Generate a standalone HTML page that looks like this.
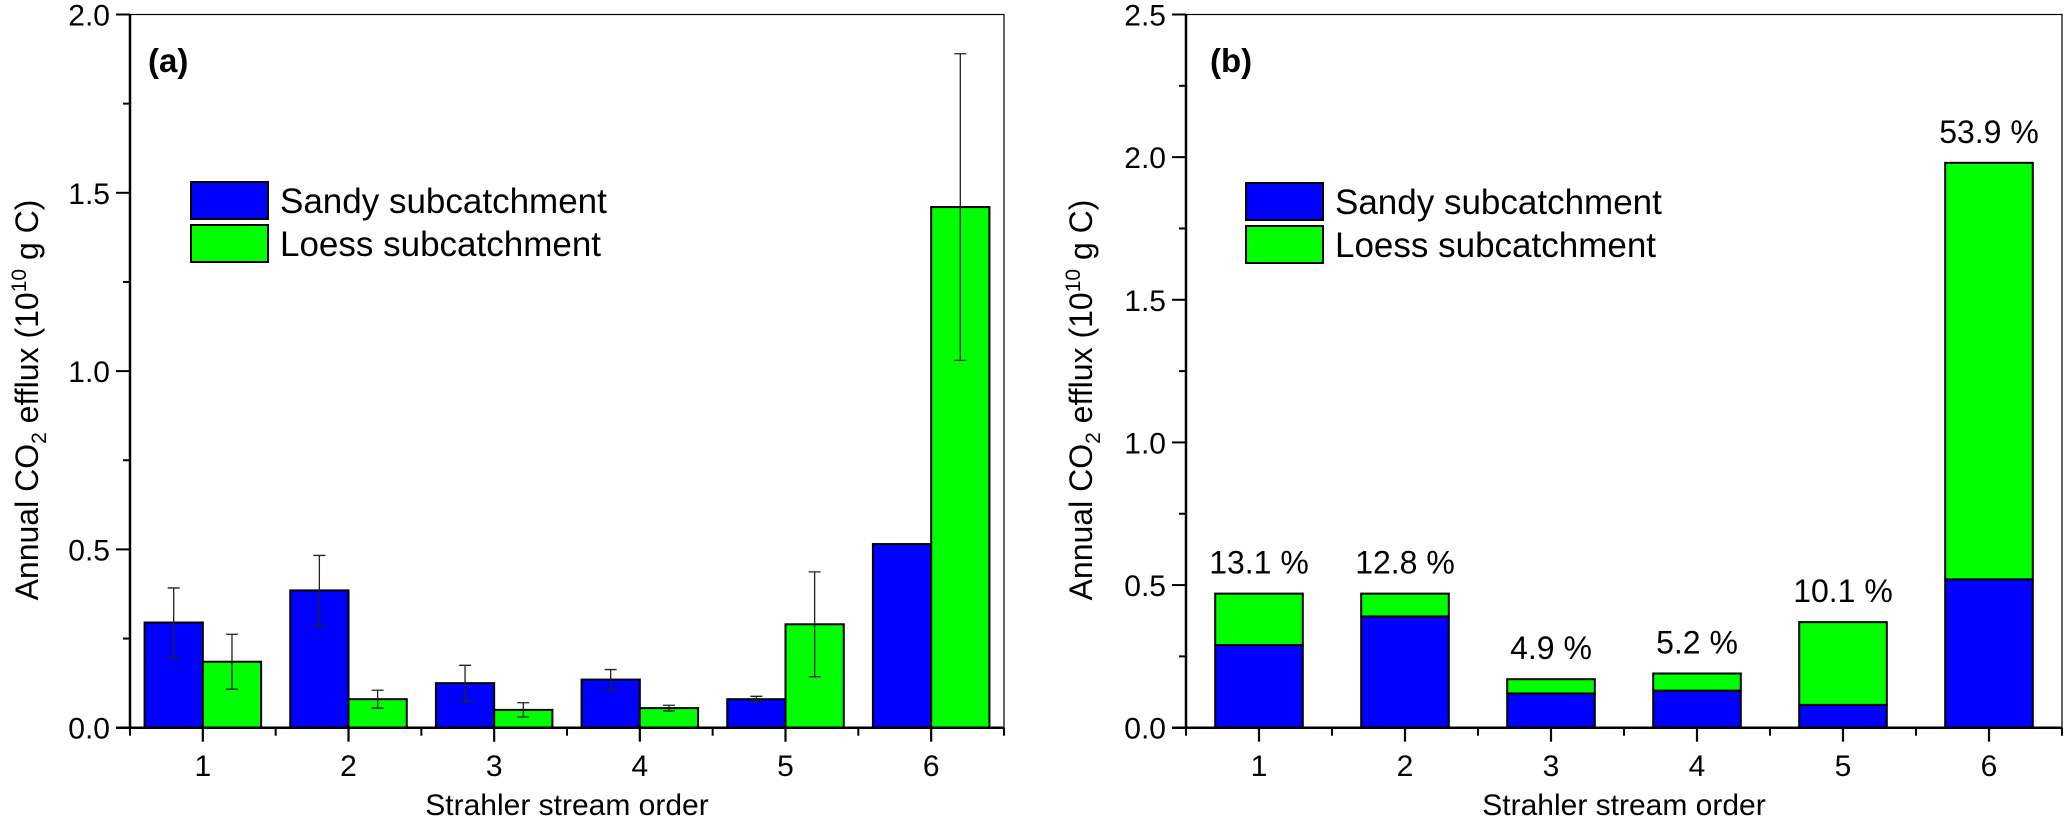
<!DOCTYPE html>
<html><head><meta charset="utf-8"><style>
body{margin:0;background:#fff}
svg{display:block;font-family:"Liberation Sans",Arial,sans-serif}
</style></head><body>
<svg id="c" width="2067" height="818" viewBox="0 0 2067 818" xmlns="http://www.w3.org/2000/svg"></svg>
<script>
const categories=[1,2,3,4,5,6];
const sandyA=[0.295,0.385,0.125,0.135,0.08,0.515];
const loessA=[0.185,0.08,0.05,0.055,0.29,1.46];
const sandyErr=[0.097,0.098,0.05,0.028,0.008,0];
const loessErr=[0.077,0.025,0.02,0.008,0.147,0.43];
const sandyB=[0.29,0.39,0.12,0.13,0.08,0.52];
const loessB=[0.18,0.08,0.05,0.06,0.29,1.46];
const pctLabels=["13.1 %","12.8 %","4.9 %","5.2 %","10.1 %","53.9 %"];
const yTicksA=[0,0.5,1.0,1.5,2.0];
const yTicksB=[0,0.5,1.0,1.5,2.0,2.5];

const svg=document.getElementById('c');
const NS='http://www.w3.org/2000/svg';
function el(t,a,p){const e=document.createElementNS(NS,t);for(const k in a)e.setAttribute(k,a[k]);(p||svg).appendChild(e);return e;}
function txt(s,a,p){const e=el('text',a,p);e.textContent=s;return e;}

function panel(cfg){
  const g=el('g',{});
  
  
  const x0=cfg.x0,x1=cfg.x1,yb=727.7,yt=14.5,ymax=cfg.ymax;
  const sx=v=>x0+(v-0.5)*(x1-x0)/6;
  const sy=v=>yb-v*(yb-yt)/ymax;
  const step=(x1-x0)/6;
  const fr=el('rect',{x:x0,y:yt,width:x1-x0,height:yb-yt,fill:'none',stroke:'#000','stroke-width':1.2},g);
  
  
  categories.forEach((c,i)=>{
    if(cfg.stacked){
      const w=step*0.6,cx=sx(c);
      const b=el('rect',{x:cx-w/2,y:sy(sandyB[i]),width:w,height:sy(0)-sy(sandyB[i]),fill:'#0000ff',stroke:'#000','stroke-width':2},g);
      
      
      const tot=sandyB[i]+loessB[i];
      const l=el('rect',{x:cx-w/2,y:sy(tot),width:w,height:sy(sandyB[i])-sy(tot),fill:'#00ff00',stroke:'#000','stroke-width':2},g);
      
      
      const p=txt(pctLabels[i],{x:cx,y:sy(tot)-20,'font-size':32,'text-anchor':'middle'},g);
      
      
    }else{
      const w=step*0.4,cx=sx(c);
      [[sandyA,sandyErr,'#0000ff',cx-w,'sandy'],[loessA,loessErr,'#00ff00',cx,'loess']].forEach(([d,e,col,bx,nm])=>{
        const b=el('rect',{x:bx,y:sy(d[i]),width:w,height:sy(0)-sy(d[i]),fill:col,stroke:'#000','stroke-width':2},g);
        
        
        if(e[i]>0){
          const mx=bx+w/2,ye1=sy(d[i]+e[i]),ye2=sy(d[i]-e[i]);
          const eb=el('path',{d:`M${mx},${ye1}V${ye2}M${mx-6},${ye1}H${mx+6}M${mx-6},${ye2}H${mx+6}`,stroke:'#222','stroke-width':1.3,fill:'none'},g);
          
          
        }
      });
    }
    const t=txt(String(c),{x:sx(c),y:776,'font-size':30,'text-anchor':'middle'},g);
    
    
  });
  el('line',{x1:x0,y1:yt,x2:x0,y2:yb,stroke:'#000','stroke-width':2.5},g);
  el('line',{x1:x0-14,y1:yb,x2:x1,y2:yb,stroke:'#000','stroke-width':2.5},g);
  for(let k=0;k<=6;k++){const xx=x0+k*step;el('line',{x1:xx,y1:yb,x2:xx,y2:yb+8,stroke:'#000','stroke-width':2},g);}
  categories.forEach(c=>el('line',{x1:sx(c),y1:yb,x2:sx(c),y2:yb+14,stroke:'#000','stroke-width':2.2},g));
  for(let v=0;v<=ymax+1e-9;v+=0.25){el('line',{x1:x0-(Math.abs(v*2-Math.round(v*2))<1e-6?14:7),y1:sy(v),x2:x0,y2:sy(v),stroke:'#000','stroke-width':2},g);}
  cfg.ticks.forEach(v=>{
    const t=txt(v.toFixed(1),{x:x0-20,y:sy(v)+11,'font-size':30,'text-anchor':'end'},g);
    
    
  });
  const xt=txt('Strahler stream order',{x:(x0+x1)/2,y:815,'font-size':30,'text-anchor':'middle'},g);
  
  
  const yc=400,yx=cfg.ytx;
  const yt2=el('text',{x:0,y:0,'font-size':32,'text-anchor':'middle',transform:`translate(${yx},${yc}) rotate(-90)`},g);
  yt2.innerHTML='Annual CO<tspan font-size="21" dy="8">2</tspan><tspan dy="-8"> efflux (10</tspan><tspan font-size="21" dy="-12">10</tspan><tspan dy="12"> g C)</tspan>';
  
  
  const pl=txt(cfg.label,{x:cfg.lx,y:72,'font-size':33,'font-weight':'bold'},g);
  
  
  [['Sandy subcatchment','#0000ff',cfg.legY],['Loess subcatchment','#00ff00',cfg.legY+43]].forEach(([s,col,y],j)=>{
    const r=el('rect',{x:cfg.legX,y:y,width:77,height:37,fill:col,stroke:'#000','stroke-width':2},g);
    
    
    const t=txt(s,{x:cfg.legX+89,y:y+31,'font-size':35},g);
    
    
  });
}
panel({name:'panel-a',x0:130,x1:1004,ymax:2.0,ticks:yTicksA,stacked:false,label:'(a)',lx:148,ytx:38,legX:191,legY:182});
panel({name:'panel-b',x0:1186,x1:2062,ymax:2.5,ticks:yTicksB,stacked:true,label:'(b)',lx:1210,ytx:1092,legX:1246,legY:183});
</script>
</body></html>
